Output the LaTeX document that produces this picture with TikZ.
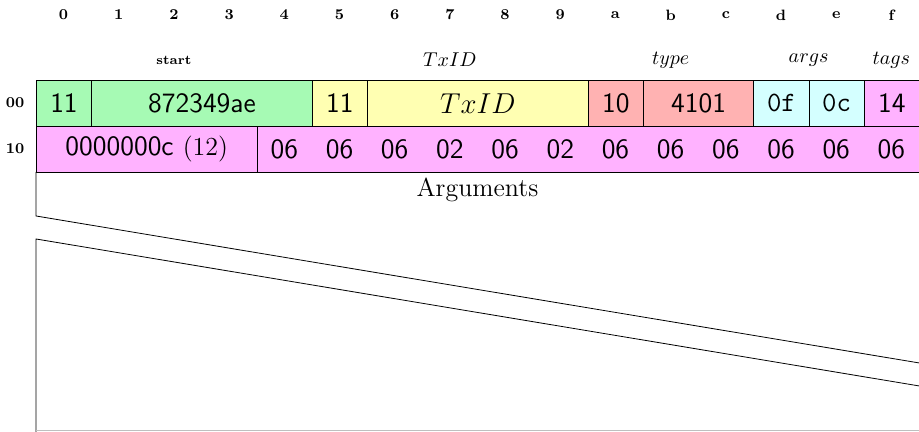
\documentclass[tikz,border=0pt]{standalone}
\usetikzlibrary{positioning}
\definecolor{fgreen}{RGB}{166,250,180}
\definecolor{fyellow}{RGB}{255,255,178}
\definecolor{fred}{RGB}{255,178,178}
\definecolor{fcyan}{RGB}{212,255,255}
\definecolor{fmagenta}{RGB}{255,178,255}
\newcommand{\hexfont}{\fontsize{14}{17}\selectfont\sffamily}

\begin{document}
\begin{tikzpicture}[x=27.6pt,y=-23pt,line width=.4pt,
  box/.style={draw,anchor=north west,minimum height=23pt,minimum width=#1*27.6pt,inner sep=0pt,font=\hexfont},
  box/.default=1,
  bitno/.style={font=\fontsize{7.5}{9}\selectfont\bfseries},
  fld/.style={font=\fontsize{10}{12}\selectfont}]
\useasboundingbox (-0.652,-1.739) rectangle (16,7.652);
% bit numbers
\foreach \c [count=\i from 0] in {0,1,2,3,4,5,6,7,8,9,a,b,c,d,e,f}
  \node[bitno] (bit\c) at (\i+.5,-1.413) {\c};
% field names
\node[font=\fontsize{6.5}{8}\selectfont\bfseries] (lstart) at (2.5,-.435) {start};
\node[fld] (ltxid) at (7.5,-.435) {$TxID$};
\node[fld] (ltype) at (11.5,-.435) {$type$};
\node[fld] (largs) at (14,-.435) {$args$};
\node[fld] (ltags) at (15.5,-.435) {$tags$};
% word offsets
\node[bitno] (r00) at (-.38,.5) {00};
\node[bitno] (r10) at (-.38,1.5) {10};
% word 00
\node[box,fill=fgreen] (c0) at (0,0) {11};
\node[box=4,fill=fgreen] (c1) at (1,0) {872349ae};
\node[box,fill=fyellow] (c5) at (5,0) {11};
\node[box=4,fill=fyellow,font=\fontsize{15}{18}\selectfont] (c6) at (6,0) {$TxID$};
\node[box,fill=fred] (ca) at (10,0) {10};
\node[box=2,fill=fred] (cb) at (11,0) {4101};
\node[box,fill=fcyan,font=\hexfont\ttfamily] (cd) at (13,0) {0f};
\node[box,fill=fcyan,font=\hexfont\ttfamily] (ce) at (14,0) {0c};
\node[box,fill=fmagenta] (cf) at (15,0) {14};
% word 10
\node[box=4,fill=fmagenta] (len) at (0,1) {0000000c {\fontsize{13}{15}\selectfont\rmfamily(12)}};
\node[box=12,fill=fmagenta] (tagrow) at (4,1) {};
\foreach \t [count=\i from 4] in {06,06,06,02,06,02,06,06,06,06,06,06}
  \node[font=\hexfont] (t\i) at (\i+.5,1.5) {\t};
% arguments, skipped words
\node[font=\fontsize{13}{15}\selectfont] (args) at (8,2.39) {Arguments};
\draw (0,2) -- (0,2.957) -- (16,6.152);
\draw (16,6.652) -- (0,3.457) -- (0,7.652);
\draw[black!25] (0,7.63) -- (16,7.63);
\end{tikzpicture}
\end{document}
